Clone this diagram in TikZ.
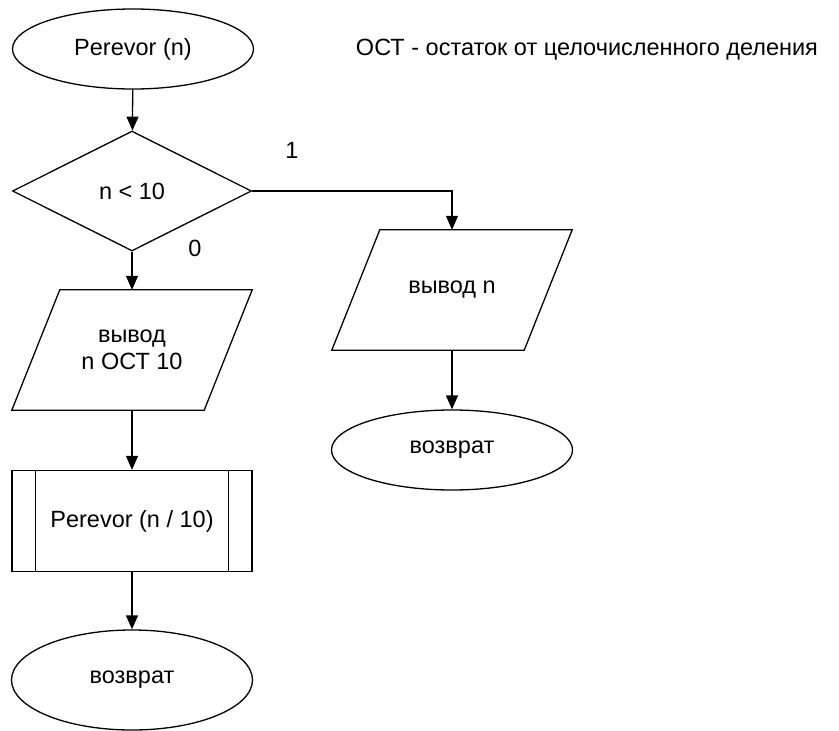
\documentclass[tikz,border=0pt]{standalone}
\usepackage{fontspec}
\setmainfont{Liberation Sans}
\usetikzlibrary{shapes.geometric,arrows.meta,calc}
\begin{document}
\begin{tikzpicture}[x=1pt,y=-1pt,
  every node/.style={font=\fontsize{23.5}{27}\selectfont, inner sep=0pt},
  line/.style={line width=1.3pt, draw=black},
  arr/.style={line width=1.3pt, -{Triangle[width=12pt,length=14pt]}},
  term/.style={ellipse, line, minimum width=241pt, minimum height=80pt},
  decis/.style={diamond, line, minimum width=239pt, minimum height=120pt},
  iobox/.style={rectangle, minimum width=192pt, minimum height=120pt, align=center},
  procbox/.style={rectangle, line, minimum width=240pt, minimum height=101pt}
]
\useasboundingbox (0,0) rectangle (839,731);
\fill[white] (0,0) rectangle (839,731);

\node[term] (start) at (133,49) {Perevor (n)};
\node (note) at (587,50) {ОСТ - остаток от целочисленного деления};
\node[decis] (dec) at (132,191) {n < 10};

% right branch
\node[iobox] (outR) at (452,290) {вывод n};
\draw[line] ($(outR.north west)+(24,0)$) -- ($(outR.north east)+(24,0)$)
  -- ($(outR.south east)+(-24,0)$) -- ($(outR.south west)+(-24,0)$) -- cycle;
\node[term] (retR) at (452,450) {возврат};

% left branch
\node[iobox] (outL) at (132,350) {вывод\\n ОСТ 10};
\draw[line] ($(outL.north west)+(24,0)$) -- ($(outL.north east)+(24,0)$)
  -- ($(outL.south east)+(-24,0)$) -- ($(outL.south west)+(-24,0)$) -- cycle;
\node[procbox] (proc) at (132,521) {Perevor (n / 10)};
\draw[line] ($(proc.north west)+(24,0)$) -- ($(proc.south west)+(24,0)$);
\draw[line] ($(proc.north east)+(-24,0)$) -- ($(proc.south east)+(-24,0)$);
\node[term, minimum height=100pt] (retL) at (132,680) {возврат};

\node (one) at (292,150) {1};
\node (zero) at (195,248) {0};

% connectors
\draw[arr] (start) -- (dec);
\draw[arr] (dec.east) -| (outR.north);
\draw[arr] (dec.south) -- (outL.north);
\draw[arr] (outL.south) -- (proc.north);
\draw[arr] (proc.south) -- (retL.north);
\draw[arr] (outR.south) -- (retR.north);
\end{tikzpicture}
\end{document}
